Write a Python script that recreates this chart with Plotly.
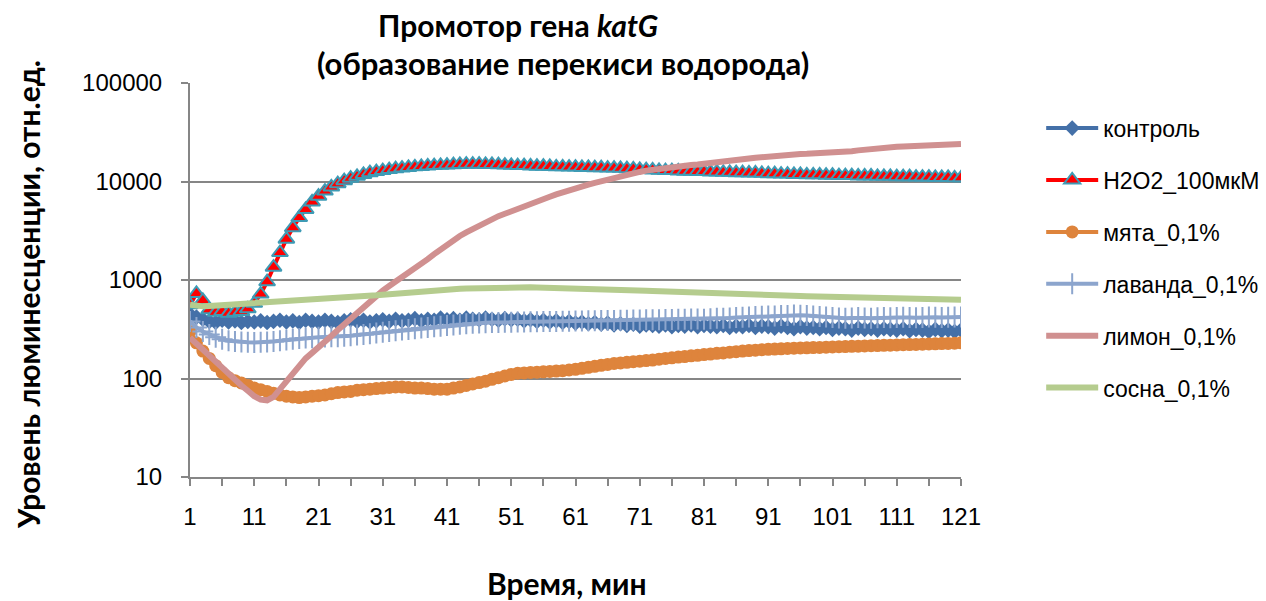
import plotly.graph_objects as go

minutes = list(range(1, 122))
x_tick_labels = [str(v) for v in range(1, 122, 10)]
y_tick_values = [10, 100, 1000, 10000, 100000]

kontrol = [450, 420, 400, 380, 370, 390, 375, 385, 370, 380,
           375, 385, 370, 380, 390, 375, 385, 370, 390, 380,
           375, 390, 380, 370, 385, 395, 380, 390, 375, 385,
           395, 380, 400, 385, 390, 405, 385, 400, 390, 410,
           395, 405, 390, 410, 400, 395, 410, 400, 390, 405,
           395, 400, 385, 395, 380, 390, 375, 385, 370, 380,
           365, 375, 360, 370, 355, 365, 350, 360, 345, 355,
           340, 350, 345, 340, 350, 335, 345, 340, 350, 335,
           345, 340, 335, 345, 330, 340, 335, 345, 330, 340,
           335, 325, 340, 330, 320, 335, 325, 330, 320, 330,
           315, 325, 320, 310, 325, 315, 320, 310, 320, 315,
           310, 320, 305, 315, 310, 300, 315, 305, 310, 300,
           310]

h2o2 = [560, 730, 620, 500, 470, 480, 460, 470, 480, 510,
        580, 720, 960, 1350, 1900, 2600, 3400, 4300, 5200, 6200,
        7100, 8000, 8800, 9500, 10200, 10800, 11300, 11800, 12300, 12600,
        12900, 13200, 13500, 13700, 13900, 14100, 14200, 14400, 14500, 14600,
        14700, 14800, 14900, 15000, 15000, 15000, 14900, 14900, 14800, 14700,
        14600, 14500, 14500, 14400, 14300, 14300, 14200, 14100, 14100, 14000,
        14000, 13900, 13900, 13800, 13800, 13700, 13700, 13600, 13500, 13400,
        13300, 13200, 13100, 13000, 12900, 12900, 12800, 12700, 12700, 12600,
        12600, 12500, 12500, 12400, 12400, 12300, 12300, 12200, 12200, 12100,
        12000, 12000, 11900, 11900, 11800, 11800, 11700, 11700, 11700, 11600,
        11600, 11500, 11500, 11500, 11400, 11400, 11400, 11300, 11300, 11300,
        11200, 11200, 11200, 11100, 11100, 11100, 11000, 11000, 11000, 10900,
        10900]

myata = [300, 230, 190, 160, 135, 115, 102, 95, 90, 85,
         80, 77, 74, 71, 68, 66, 65, 64, 65, 66,
         67, 68, 70, 72, 73, 74, 76, 77, 78, 79,
         80, 81, 82, 82, 81, 80, 80, 79, 78, 78,
         78, 80, 82, 85, 88, 91, 94, 98, 102, 106,
         110, 113, 114, 115, 116, 117, 118, 119, 120, 122,
         124, 127, 130, 133, 136, 139, 142, 144, 146, 148,
         150, 152, 154, 157, 160, 162, 165, 167, 170, 172,
         175, 177, 180, 182, 185, 187, 190, 192, 194, 196,
         198, 199, 200, 202, 203, 204, 205, 206, 207, 208,
         209, 210, 211, 212, 213, 214, 215, 216, 217, 218,
         219, 220, 221, 222, 223, 224, 225, 226, 227, 228,
         230]

lavanda = [380, 330, 300, 280, 262, 250, 242, 238, 235, 233,
           232, 233, 235, 238, 242, 246, 250, 254, 257, 260,
           262, 264, 265, 266, 268, 272, 276, 280, 285, 290,
           295, 300, 305, 310, 315, 320, 325, 330, 335, 340,
           345, 350, 355, 360, 363, 366, 368, 370, 371, 372,
           373, 374, 375, 376, 377, 378, 379, 380, 381, 382,
           383, 384, 385, 386, 387, 388, 389, 390, 391, 392,
           393, 394, 395, 396, 397, 398, 399, 400, 401, 402,
           400, 405, 410, 408, 412, 415, 418, 420, 425, 428,
           430, 432, 435, 437, 440, 438, 435, 430, 425, 420,
           415, 412, 410, 412, 415, 412, 410, 414, 416, 413,
           415, 418, 416, 414, 417, 420, 418, 415, 418, 420,
           420]

limon = [260, 225, 195, 170, 150, 130, 112, 97, 85, 75,
         66, 61, 60, 65, 78, 95, 115, 138, 160, 182,
         205, 235, 270, 310, 355, 405, 470, 540, 620, 700,
         780, 870, 960, 1060, 1170, 1300, 1450, 1630, 1830, 2050,
         2300, 2550, 2800, 3050, 3300, 3550, 3850, 4150, 4450, 4700,
         5000, 5300, 5600, 5900, 6300, 6700, 7000, 7400, 7800, 8100,
         8500, 8900, 9300, 9700, 10100, 10500, 10900, 11300, 11700, 12100,
         12500, 12900, 13200, 13500, 13800, 14000, 14200, 14500, 14700, 14900,
         15100, 15300, 15600, 15900, 16200, 16500, 16800, 17100, 17400, 17700,
         18000, 18200, 18400, 18600, 18800, 19000, 19100, 19200, 19300, 19400,
         19500, 19700, 20000, 20300, 20700, 21100, 21500, 21800, 22100, 22300,
         22500, 22600, 22700, 22800, 22900, 23000, 23100, 23200, 23400, 23700,
         24000]

sosna = [560, 545, 540, 545, 550, 555, 560, 565, 570, 575,
         580, 585, 590, 592, 595, 600, 605, 610, 615, 620,
         625, 630, 640, 645, 650, 660, 670, 680, 690, 700,
         710, 720, 730, 740, 750, 760, 770, 780, 790, 800,
         805, 810, 815, 820, 825, 830, 835, 840, 845, 850,
         850, 848, 845, 842, 840, 838, 835, 832, 830, 825,
         822, 820, 818, 815, 812, 810, 805, 800, 795, 790,
         785, 780, 775, 770, 765, 760, 755, 750, 745, 740,
         735, 730, 725, 720, 715, 712, 710, 708, 705, 702,
         700, 698, 695, 692, 690, 688, 685, 682, 680, 678,
         675, 672, 670, 668, 665, 662, 660, 658, 655, 652,
         650, 648, 646, 644, 642, 640, 638, 636, 634, 632,
         630]

series_names = ["контроль", "H2O2_100мкМ", "мята_0,1%", "лаванда_0,1%", "лимон_0,1%", "сосна_0,1%"]

fig = go.Figure()

fig.add_trace(go.Scatter(x=minutes, y=kontrol, name=series_names[0], mode="lines+markers",
                         line=dict(color="#4470A8", width=4),
                         marker=dict(symbol="diamond", size=12, color="#4470A8")))
fig.add_trace(go.Scatter(x=minutes, y=h2o2, name=series_names[1], mode="lines+markers",
                         line=dict(color="#FF0000", width=4),
                         marker=dict(symbol="triangle-up", size=14, color="#FF0000",
                                     line=dict(color="#3E9BB5", width=2))))
fig.add_trace(go.Scatter(x=minutes, y=myata, name=series_names[2], mode="lines+markers",
                         line=dict(color="#DE843C", width=4),
                         marker=dict(symbol="circle", size=13, color="#DE843C")))
fig.add_trace(go.Scatter(x=minutes, y=lavanda, name=series_names[3], mode="lines+markers",
                         line=dict(color="#8CA5CD", width=4),
                         marker=dict(symbol="cross-thin", size=15, color="#8CA5CD",
                                     line=dict(color="#8CA5CD", width=2))))
fig.add_trace(go.Scatter(x=minutes, y=limon, name=series_names[4], mode="lines",
                         line=dict(color="#D09090", width=6)))
fig.add_trace(go.Scatter(x=minutes, y=sosna, name=series_names[5], mode="lines",
                         line=dict(color="#B5CC8E", width=6)))

for i, tr in enumerate(fig.data):
    tr.legendgroup = "g%d" % i

axis_font = dict(family="Liberation Sans, Arial, sans-serif", size=24, color="#000000")
bold_font = dict(family="Lato, Liberation Sans, sans-serif", size=30, color="#000000")

# The page body has an 8px margin, so the figure is 8px smaller than the window.
fig.update_layout(
    width=1258, height=593, autosize=False,
    margin=dict(l=182, r=305, t=75, b=124, autoexpand=False),
    paper_bgcolor="white", plot_bgcolor="white",
    showlegend=True,
    legend=dict(x=1.104, y=0.94, xanchor="left", yanchor="top",
                font=dict(family="Liberation Sans, Arial, sans-serif", size=23, color="#000000"),
                tracegroupgap=19, itemwidth=52, bgcolor="rgba(0,0,0,0)"),
    xaxis=dict(range=[1, 121], tickmode="array",
               tickvals=list(range(1, 122, 10)), ticktext=x_tick_labels,
               ticks="outside", ticklen=7, tickwidth=2, tickcolor="#868686",
               ticklabelstandoff=10,
               minor=dict(tickmode="array", tickvals=list(range(6, 122, 10)),
                          ticks="outside", ticklen=7, tickwidth=2, tickcolor="#868686"),
               showgrid=False, zeroline=False, automargin=False,
               showline=True, linecolor="#868686", linewidth=2,
               tickfont=axis_font),
    yaxis=dict(type="log", range=[1, 5], tickmode="array",
               tickvals=y_tick_values, ticktext=[str(v) for v in y_tick_values],
               ticks="outside", ticklen=7, tickwidth=2, tickcolor="#868686",
               ticklabelstandoff=14,
               showgrid=True, gridcolor="#868686", gridwidth=2, automargin=False,
               zeroline=False, showline=True, linecolor="#868686", linewidth=2,
               tickfont=axis_font),
    annotations=[
        dict(text="<b>Промотор гена <i>katG</i></b>", xref="paper", yref="paper",
             x=0.4254, y=1.148, xanchor="center", yanchor="middle", showarrow=False,
             font=dict(family="Lato, Liberation Sans, sans-serif", size=30, color="#000000")),
        dict(text="<b>(образование перекиси водорода)</b>", xref="paper", yref="paper",
             x=0.4838, y=1.051, xanchor="center", yanchor="middle", showarrow=False,
             font=dict(family="Lato, Liberation Sans, sans-serif", size=31, color="#000000")),
        dict(text="<b>Уровень люминесценции, отн.ед.</b>", xref="paper", yref="paper",
             x=-0.21, y=0.462, xanchor="center", yanchor="middle", showarrow=False,
             textangle=-90, font=bold_font),
        dict(text="<b>Время, мин</b>", xref="paper", yref="paper",
             x=0.489, y=-0.269, xanchor="center", yanchor="middle", showarrow=False,
             font=bold_font),
    ],
)

fig.write_html("out.html")
